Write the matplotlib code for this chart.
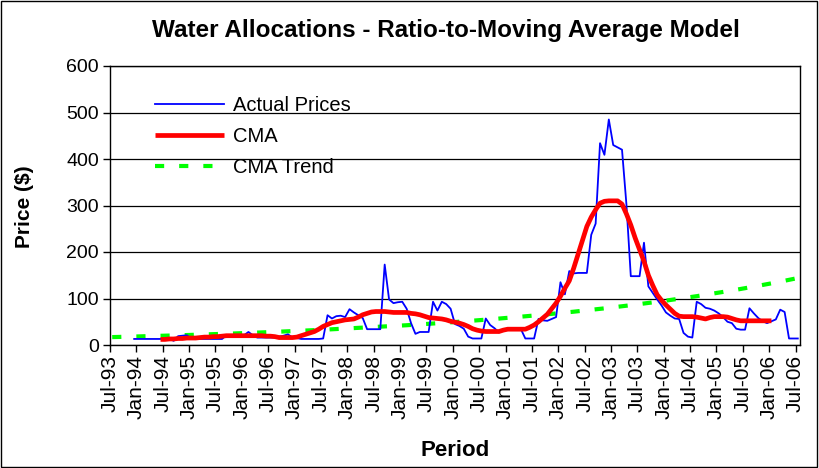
import numpy as np
import matplotlib
matplotlib.use("Agg")
import matplotlib.pyplot as plt
from matplotlib.patches import Rectangle

plt.rcParams['font.family'] = ['Liberation Sans', 'DejaVu Sans']

# monthly periods, Jul-93 .. Jul-06 (157 months), labelled every 6 months
tick_labels = ['Jul-93', 'Jan-94', 'Jul-94', 'Jan-95', 'Jul-95', 'Jan-96', 'Jul-96',
               'Jan-97', 'Jul-97', 'Jan-98', 'Jul-98', 'Jan-99', 'Jul-99', 'Jan-00',
               'Jul-00', 'Jan-01', 'Jul-01', 'Jan-02', 'Jul-02', 'Jan-03', 'Jul-03',
               'Jan-04', 'Jul-04', 'Jan-05', 'Jul-05', 'Jan-06', 'Jul-06']
n_months = 157

# actual prices start Dec-93 (month 5)
actual_start = 5
actual = [13, 13, 13, 13, 13, 13, 13, 13, 13, 9, 19, 20, 21,
          13, 13, 13, 13, 13, 13, 13, 13, 21, 21, 21, 21, 21, 28, 21,
          16, 16, 16, 16, 16, 18, 20, 23, 16, 15, 13, 13, 13, 13, 13, 14,
          64, 57, 62, 63, 60, 77, 70, 64, 58, 34, 34, 34, 34, 173, 98, 90,
          92, 93, 78, 47, 24, 28, 28, 28, 93, 74, 93, 88, 78, 45, 41, 35,
          18, 14, 14, 14, 57, 43, 36, 27, 32, 34, 36, 35, 34, 14, 14, 14,
          56, 53, 52, 56, 60, 135, 109, 159, 154, 155, 155, 155, 237, 261,
          434, 409, 485, 430, 425, 420, 303, 148, 148, 148, 220, 126, 112,
          98, 85, 70, 63, 57, 56, 26, 18, 16, 93, 88, 80, 78, 74, 68, 60,
          50, 47, 35, 33, 33, 79, 68, 58, 51, 47, 51, 55, 76, 71, 14, 14, 14]

# centred moving average, Jun-94 .. Jan-06
cma_start = 11
cma = [12, 12, 13, 13, 14, 14, 15, 15, 15, 16, 17, 17, 18, 18, 19,
       20, 20, 20, 20, 20, 20, 20, 20, 20, 19, 19, 18, 16, 16, 16, 16,
       17, 20, 23, 26, 29, 34, 40, 44, 48, 50, 52, 54, 55, 56, 60, 65,
       68, 71, 72, 72, 72, 71, 70, 70, 70, 70, 68, 67, 65, 62, 59, 58,
       57, 56, 54, 51, 49, 47, 44, 40, 35, 32, 30, 29, 29, 29, 29, 32,
       34, 34, 34, 34, 34, 38, 43, 50, 58, 66, 78, 90, 105, 122, 138,
       165, 195, 225, 255, 275, 291, 305, 309, 310, 310, 310, 303, 282,
       258, 230, 205, 180, 150, 128, 108, 96, 86, 77, 68, 62, 61, 61,
       61, 60, 58, 56, 59, 61, 61, 61, 60, 57, 54, 52, 52, 52, 52, 52,
       52, 52, 52]

# CMA trend, whole period
cma_trend = [17.0, 17.2, 17.5, 17.7, 18.0, 18.2, 18.5, 18.8, 19.0, 19.3, 19.5, 19.8,
             20.0, 20.3, 20.6, 20.8, 21.1, 21.4, 21.7, 22.0, 22.3, 22.6, 22.9, 23.2,
             23.6, 23.9, 24.3, 24.6, 24.9, 25.3, 25.6, 26.0, 26.3, 26.7, 27.0, 27.4,
             27.8, 28.2, 28.6, 29.0, 29.4, 29.8, 30.2, 30.6, 31.0, 31.5, 31.9, 32.3,
             32.8, 33.3, 33.7, 34.2, 34.7, 35.1, 35.6, 36.1, 36.6, 37.1, 37.6, 38.1,
             38.6, 39.1, 39.7, 40.2, 40.8, 41.3, 41.9, 42.5, 43.1, 43.7, 44.3, 44.9,
             45.5, 46.1, 46.8, 47.4, 48.1, 48.7, 49.4, 50.1, 50.8, 51.5, 52.2, 52.9,
             53.7, 54.4, 55.2, 56.0, 56.7, 57.5, 58.3, 59.1, 59.9, 60.7, 61.6, 62.4,
             63.3, 64.2, 65.1, 66.0, 66.9, 67.8, 68.7, 69.6, 70.6, 71.6, 72.6, 73.6,
             74.6, 75.6, 76.7, 77.7, 78.8, 79.9, 81.0, 82.1, 83.3, 84.4, 85.6, 86.8,
             87.9, 89.1, 90.4, 91.6, 92.9, 94.1, 95.5, 96.8, 98.1, 99.5, 100.9, 102.3,
             103.6, 105.0, 106.5, 108.0, 109.4, 111.0, 112.5, 114.1, 115.6, 117.2, 118.8, 120.5,
             122.2, 123.9, 125.6, 127.3, 129.1, 130.9, 132.6, 134.4, 136.3, 138.2, 140.1, 142.0,
             144.0]

x_actual = np.arange(actual_start, actual_start + len(actual))
x_cma = np.arange(cma_start, cma_start + len(cma))
x_trend = np.arange(len(cma_trend))

fig = plt.figure(figsize=(8.19, 4.68), dpi=100)
ax = fig.add_axes([110 / 819, 1 - 345 / 468, 690 / 819, 279 / 468])

ax.plot(x_actual, actual, color='#0000ff', lw=1.3, label='Actual Prices', zorder=3)
ax.plot(x_cma, cma, color='#ff0000', lw=3.4, label='CMA', zorder=4, solid_capstyle='butt')
ax.plot(x_trend, cma_trend, color='#00ff00', lw=3.0, ls=(0, (2.2, 3.6)),
        label='CMA Trend', zorder=2)

ax.set_xlim(-0.5, n_months - 0.5)
ax.set_ylim(0, 600)
ax.set_yticks(range(0, 601, 100))
ax.set_xticks(np.arange(0, n_months, 6) - 0.5)
ax.set_xticklabels(tick_labels, rotation=90, fontsize=15)
ax.tick_params(axis='y', labelsize=14, length=5, width=1, direction='out', pad=3)
ax.tick_params(axis='x', length=5, width=1, direction='out', pad=2)
ax.grid(axis='y', color='#000000', lw=0.9)
ax.set_axisbelow(True)
for s in ax.spines.values():
    s.set_color('black')
    s.set_linewidth(1)

fig.text(446 / 819, 1 - 30 / 468, 'Water Allocations - Ratio-to-Moving Average Model',
         fontsize=17.5, fontweight='bold', ha='center', va='center')
fig.text(25 / 819, 1 - 207 / 468, 'Price ($)', fontsize=15, fontweight='bold',
         rotation=90, ha='center', va='center')
fig.text(455 / 819, 1 - 451 / 468, 'Period', fontsize=16, fontweight='bold',
         ha='center', va='center')

ax.legend(loc='upper left', bbox_to_anchor=(0.054, 0.92), frameon=False, fontsize=14.5,
          handlelength=3.4, handletextpad=0.45, labelspacing=0.58, borderaxespad=0)

fig.patches.append(Rectangle((0.001, 0.002), 0.997, 0.996, transform=fig.transFigure,
                             fill=False, edgecolor='black', lw=1))

fig.savefig('out.png', dpi=100)
